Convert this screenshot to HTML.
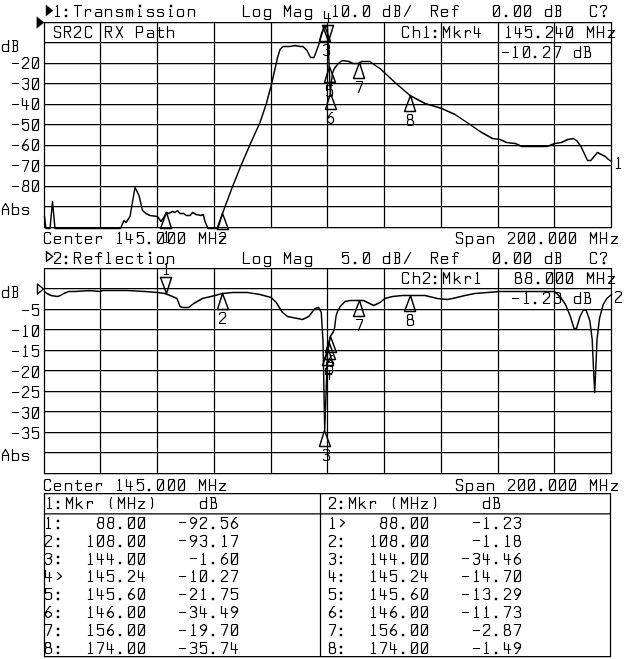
<!DOCTYPE html>
<html lang="en">
<head>
<meta charset="utf-8">
<title>Network analyzer plot - SR2C RX Path</title>
<style>
html,body{margin:0;padding:0;background:#fff;}
body{width:640px;height:659px;overflow:hidden;font-family:"Liberation Mono",monospace;}
svg{display:block;}
.g{fill:none;stroke:#000;stroke-width:1.25;}
.t{fill:none;stroke:#000;stroke-width:1.2;stroke-linecap:square;stroke-linejoin:round;}
.tr{fill:none;stroke:#000;stroke-width:1.45;stroke-linejoin:round;stroke-linecap:round;}
.f{fill:#000;stroke:#000;stroke-width:0.4;}
</style>
</head>
<body>
<svg width="640" height="659" viewBox="0 0 640 659" role="img" aria-label="Network analyzer screen: transmission and reflection traces with marker table">
<rect width="640" height="659" fill="#fff"/>
<path class="g" d="M44.5 22 V228M100.5 22 V228M157.5 22 V228M214.5 22 V228M271.5 22 V228M327.5 22 V228M384.5 22 V228M441.5 22 V228M498.5 22 V228M554.5 22 V228M611.5 22 V228M44 22.5 H612M44 42.5 H612M44 63.5 H612M44 83.5 H612M44 104.5 H612M44 124.5 H612M44 145.5 H612M44 165.5 H612M44 186.5 H612M44 206.5 H612M44 227.5 H612"/>
<path class="g" d="M44.5 268 V474M100.5 268 V474M157.5 268 V474M214.5 268 V474M271.5 268 V474M327.5 268 V474M384.5 268 V474M441.5 268 V474M498.5 268 V474M554.5 268 V474M611.5 268 V474M44 268.5 H612M44 288.5 H612M44 309.5 H612M44 329.5 H612M44 350.5 H612M44 370.5 H612M44 391.5 H612M44 411.5 H612M44 432.5 H612M44 452.5 H612M44 473.5 H612"/>
<path class="tr" d="M44.5 216.5 L46 228.5 L50 228.5 L52.5 201.5 L55 228.5 L120.5 228.5 L124 220.5 L126 222.5 L130 216.5 L135 187.5 L139 195.5 L142.5 210.5 L146 213.5 L150 215.5 L157.5 216.5 L161 221.5 L163.75 217.5 L166.25 212.5 L168.75 213.5 L172.5 211.5 L175 212.5 L177.5 210.5 L180 213.5 L183.75 213.5 L186.25 215.5 L190 215.5 L192.5 212.5 L196.25 214.5 L201.25 215.5 L203.25 214.5 L205 221.5 L208 228.5 L217 228.5 L222.5 213.5 L231.4 189.5 L241 165.5 L250.5 143.5 L260 122.5 L266.4 103.5 L271.2 85.5 L274.4 71.5 L277.6 57.5 L280 49.5 L283 46.5 L290 46.5 L295 45.5 L300 46.5 L303 46.5 L307 50.5 L310.5 57.5 L314 57.5 L318.5 45.5 L321.5 33.5 L324.7 25.5 L327.5 27.5 L330.3 93.5 L332.4 73.5 L334.4 68.5 L338.3 63.5 L342.3 60.5 L349 61.5 L353 63.5 L358 63.5 L362 61.5 L370 61.5 L376.8 66.5 L380 68.5 L395 82.5 L410 95.5 L425 103.5 L441.75 108.5 L455 114.5 L470 124.5 L480 131.5 L492.5 138.5 L500 139.5 L506.6 142.5 L515.3 143.5 L521.9 146.5 L547 146.5 L554.7 143.5 L561.3 142.5 L567.8 139.5 L573.3 138.5 L576.6 140.5 L581 146.5 L587.5 160.5 L590.8 160.5 L597.4 152.5 L605.3 156.5 L608.5 159.5 L611.5 161.5"/>
<path class="tr" d="M44.5 291.5 L47 293.5 L51 295.5 L57.5 296.5 L60.5 295.5 L63.75 293.5 L68.75 291.5 L75 291.5 L90 290.5 L100 291.5 L102.5 290.5 L127.5 290.5 L145 291.5 L157.5 292.5 L165 293.5 L172.5 296.5 L177 298.5 L180 306.5 L182.5 307.5 L188.75 307.5 L193.75 303.5 L202.5 298.5 L215 295.5 L222.5 293.5 L232.5 292.5 L247.5 292.5 L260 294.5 L271.25 297.5 L276.25 302.5 L282.5 312.5 L287.5 316.5 L297.5 318.5 L302.5 319.5 L308.75 316.5 L315 308.5 L318.75 307.5 L321.25 312.5 L323 340.5 L324.7 430.5 L327.5 353.5 L330.3 336.5 L333.5 331.5 L334.7 327.5 L335.3 321.5 L336.2 315.5 L337.5 311.5 L340.2 306.5 L345.1 301.5 L350 300.5 L352 300.5 L358.7 300.5 L363.6 300.5 L373.7 305.5 L380 302.5 L385 298.5 L392.5 296.5 L402.5 295.5 L410 295.5 L425 295.5 L437.5 298.5 L447.5 299.5 L452.5 298.5 L465 295.5 L475 293.5 L487.5 292.5 L500 291.5 L510 291.5 L554.6 291.5 L560.7 297.5 L565.5 304.5 L570.4 316.5 L574 328.5 L576.5 328.5 L580 316.5 L583.7 309.5 L586.2 310.5 L589.8 320.5 L592.2 339.5 L593.4 366.5 L594.7 392.5 L595.9 366.5 L597 339.5 L599.5 318.5 L603.2 304.5 L606.8 298.5 L611.5 294.5"/>
<path class="tr" d="M166.5 212.5 L160.5 228.5 L171.5 228.5Z"/>
<g role="img" aria-label="marker 1"><title>marker 1</title><path class="t" d="M165.5 233.5 L166.5 231.5 L166.5 242.5M164.5 242.5 L168.5 242.5"/></g>
<path class="tr" d="M222.5 213.5 L217.5 229.5 L228.5 229.5Z"/>
<g role="img" aria-label="marker 2"><title>marker 2</title><path class="t" d="M219.5 234.5 L219.5 234.5 L221.5 232.5 L224.5 232.5 L225.5 234.5 L225.5 236.5 L219.5 242.5 L219.5 243.5 L225.5 243.5"/></g>
<path class="tr" d="M324.5 25.5 L319.5 41.5 L330.5 41.5Z"/>
<g role="img" aria-label="marker 3"><title>marker 3</title><path class="t" d="M323.5 45.5 L325.5 44.5 L328.5 44.5 L329.5 45.5 L329.5 48.5 L328.5 49.5 L326.5 49.5M328.5 49.5 L329.5 50.5 L329.5 54.5 L328.5 55.5 L325.5 55.5 L323.5 54.5"/></g>
<path class="tr" d="M328.5 41.5 L322.5 25.5 L333.5 25.5Z"/>
<g role="img" aria-label="marker 4"><title>marker 4</title><path class="t" d="M324.5 11.5 L324.5 18.5 L330.5 18.5M328.5 13.5 L328.5 22.5"/></g>
<path class="tr" d="M329.5 66.5 L324.5 82.5 L335.5 82.5Z"/>
<g role="img" aria-label="marker 5"><title>marker 5</title><path class="t" d="M332.5 85.5 L326.5 85.5 L326.5 90.5 L328.5 89.5 L331.5 89.5 L332.5 90.5 L332.5 95.5 L331.5 96.5 L328.5 96.5 L326.5 95.5"/></g>
<path class="tr" d="M330.5 93.5 L325.5 109.5 L336.5 109.5Z"/>
<g role="img" aria-label="marker 6"><title>marker 6</title><path class="t" d="M332.5 112.5 L331.5 112.5 L327.5 117.5 L327.5 121.5 L330.5 123.5 L331.5 123.5 L333.5 121.5 L333.5 118.5 L331.5 116.5 L330.5 116.5 L327.5 118.5"/></g>
<path class="tr" d="M359.5 62.5 L353.5 78.5 L364.5 78.5Z"/>
<g role="img" aria-label="marker 7"><title>marker 7</title><path class="t" d="M356.5 81.5 L362.5 81.5 L362.5 82.5 L358.5 92.5"/></g>
<path class="tr" d="M410.5 95.5 L404.5 111.5 L415.5 111.5Z"/>
<g role="img" aria-label="marker 8"><title>marker 8</title><path class="t" d="M408.5 119.5 L407.5 118.5 L407.5 115.5 L408.5 114.5 L411.5 114.5 L412.5 115.5 L412.5 118.5 L411.5 119.5 L408.5 119.5 L407.5 121.5 L407.5 124.5 L408.5 125.5 L411.5 125.5 L413.5 124.5 L413.5 121.5 L411.5 119.5"/></g>
<path class="tr" d="M166.5 293.5 L160.5 277.5 L171.5 277.5Z"/>
<g role="img" aria-label="marker 1"><title>marker 1</title><path class="t" d="M165.5 264.5 L166.5 263.5 L166.5 274.5M164.5 274.5 L168.5 274.5"/></g>
<path class="tr" d="M222.5 293.5 L217.5 309.5 L228.5 309.5Z"/>
<g role="img" aria-label="marker 2"><title>marker 2</title><path class="t" d="M219.5 314.5 L219.5 313.5 L221.5 312.5 L224.5 312.5 L225.5 313.5 L225.5 316.5 L219.5 322.5 L219.5 323.5 L225.5 323.5"/></g>
<path class="tr" d="M324.5 430.5 L319.5 446.5 L330.5 446.5Z"/>
<g role="img" aria-label="marker 3"><title>marker 3</title><path class="t" d="M323.5 450.5 L324.5 449.5 L327.5 449.5 L329.5 450.5 L329.5 453.5 L327.5 454.5 L325.5 454.5M327.5 454.5 L329.5 456.5 L329.5 459.5 L327.5 460.5 L324.5 460.5 L323.5 459.5"/></g>
<path class="tr" d="M328.5 349.5 L322.5 365.5 L333.5 365.5Z"/>
<g role="img" aria-label="marker 4"><title>marker 4</title><path class="t" d="M325.5 368.5 L325.5 374.5 L331.5 374.5M329.5 370.5 L329.5 379.5"/></g>
<path class="tr" d="M329.5 343.5 L324.5 359.5 L335.5 359.5Z"/>
<g role="img" aria-label="marker 5"><title>marker 5</title><path class="t" d="M332.5 362.5 L326.5 362.5 L326.5 367.5 L328.5 365.5 L331.5 365.5 L332.5 367.5 L332.5 372.5 L331.5 373.5 L328.5 373.5 L326.5 372.5"/></g>
<path class="tr" d="M330.5 336.5 L325.5 352.5 L336.5 352.5Z"/>
<g role="img" aria-label="marker 6"><title>marker 6</title><path class="t" d="M332.5 355.5 L331.5 355.5 L327.5 361.5 L327.5 365.5 L330.5 366.5 L331.5 366.5 L333.5 365.5 L333.5 362.5 L331.5 360.5 L330.5 360.5 L327.5 362.5"/></g>
<path class="tr" d="M359.5 300.5 L353.5 316.5 L364.5 316.5Z"/>
<g role="img" aria-label="marker 7"><title>marker 7</title><path class="t" d="M356.5 319.5 L362.5 319.5 L362.5 320.5 L358.5 330.5"/></g>
<path class="tr" d="M410.5 295.5 L404.5 311.5 L415.5 311.5Z"/>
<g role="img" aria-label="marker 8"><title>marker 8</title><path class="t" d="M408.5 319.5 L407.5 318.5 L407.5 315.5 L408.5 314.5 L411.5 314.5 L412.5 315.5 L412.5 318.5 L411.5 319.5 L408.5 319.5 L407.5 320.5 L407.5 324.5 L408.5 325.5 L411.5 325.5 L413.5 324.5 L413.5 320.5 L411.5 319.5"/></g>
<path class="f" d="M36.8 16.8 L44 22.5 L36.8 28.2Z"/>
<path class="tr" d="M37.5 284 L43.5 289 L37.5 294Z"/>
<path class="f" d="M46 5 L53 10.5 L46 16Z"/>
<path class="tr" d="M46.5 251.7 L52.7 256.5 L46.5 261.3Z"/>
<g role="img" aria-label="trace 1"><title>trace 1</title><path class="t" d="M617.5 158.5 L618.5 157.5 L618.5 168.5M616.5 168.5 L620.5 168.5"/></g>
<g role="img" aria-label="trace 2"><title>trace 2</title><path class="t" d="M615.5 292.5 L615.5 292.5 L616.5 291.5 L619.5 291.5 L621.5 292.5 L621.5 294.5 L615.5 300.5 L615.5 302.5 L621.5 302.5"/></g>
<g role="img" aria-label="1:Transmission"><title>1:Transmission</title><path class="t" d="M56.5 6.5 L57.5 5.5 L57.5 16.5M55.5 16.5 L59.5 16.5M74.5 5.5 L81.5 5.5M77.5 5.5 L77.5 16.5M85.5 9.5 L85.5 16.5M85.5 11.5 L87.5 9.5 L90.5 9.5 L90.5 10.5 L90.5 11.5M96.5 9.5 L100.5 9.5 L101.5 10.5 L101.5 16.5M101.5 12.5 L96.5 12.5 L95.5 13.5 L95.5 15.5 L96.5 16.5 L101.5 16.5M105.5 9.5 L105.5 16.5M105.5 10.5 L107.5 9.5 L110.5 9.5 L111.5 10.5 L111.5 16.5M122.5 10.5 L122.5 10.5 L121.5 9.5 L117.5 9.5 L116.5 10.5 L116.5 11.5 L117.5 12.5 L121.5 12.5 L122.5 13.5 L122.5 15.5 L121.5 16.5 L117.5 16.5 L116.5 15.5 L116.5 15.5M126.5 9.5 L126.5 16.5M126.5 10.5 L127.5 9.5 L128.5 9.5 L129.5 10.5 L129.5 16.5M129.5 10.5 L130.5 9.5 L131.5 9.5 L132.5 10.5 L132.5 16.5M138.5 9.5 L139.5 9.5 L139.5 16.5M138.5 16.5 L141.5 16.5M153.5 10.5 L153.5 10.5 L152.5 9.5 L148.5 9.5 L147.5 10.5 L147.5 11.5 L148.5 12.5 L152.5 12.5 L153.5 13.5 L153.5 15.5 L152.5 16.5 L148.5 16.5 L147.5 15.5 L147.5 15.5M163.5 10.5 L163.5 10.5 L162.5 9.5 L158.5 9.5 L157.5 10.5 L157.5 11.5 L158.5 12.5 L162.5 12.5 L163.5 13.5 L163.5 15.5 L162.5 16.5 L158.5 16.5 L157.5 15.5 L157.5 15.5M169.5 9.5 L170.5 9.5 L170.5 16.5M169.5 16.5 L172.5 16.5M178.5 16.5 L182.5 16.5 L183.5 15.5 L183.5 10.5 L182.5 9.5 L178.5 9.5 L177.5 10.5 L177.5 15.5 L178.5 16.5M188.5 9.5 L188.5 16.5M188.5 10.5 L189.5 9.5 L193.5 9.5 L194.5 10.5 L194.5 16.5"/><rect class="f" x="65" y="15" width="2" height="2"/><rect class="f" x="65" y="9" width="2" height="2"/><rect class="f" x="139" y="5" width="2" height="2"/><rect class="f" x="170" y="5" width="2" height="2"/></g>
<g role="img" aria-label="Log Mag"><title>Log Mag</title><path class="t" d="M243.5 5.5 L243.5 16.5 L249.5 16.5M254.5 16.5 L258.5 16.5 L259.5 15.5 L259.5 10.5 L258.5 9.5 L254.5 9.5 L253.5 10.5 L253.5 15.5 L254.5 16.5M270.5 15.5 L269.5 16.5 L265.5 16.5 L264.5 15.5 L264.5 10.5 L265.5 9.5 L269.5 9.5 L270.5 10.5M270.5 9.5 L270.5 18.5 L269.5 19.5 L265.5 19.5 L264.5 18.5M284.5 16.5 L284.5 5.5 L287.5 11.5 L290.5 5.5 L290.5 16.5M295.5 9.5 L299.5 9.5 L300.5 10.5 L300.5 16.5M300.5 12.5 L295.5 12.5 L294.5 13.5 L294.5 15.5 L295.5 16.5 L300.5 16.5M311.5 15.5 L310.5 16.5 L306.5 16.5 L305.5 15.5 L305.5 10.5 L306.5 9.5 L310.5 9.5 L311.5 10.5M311.5 9.5 L311.5 18.5 L310.5 19.5 L306.5 19.5 L305.5 18.5"/></g>
<g role="img" aria-label="10.0 dB/"><title>10.0 dB/</title><path class="t" d="M334.5 6.5 L335.5 5.5 L335.5 16.5M333.5 16.5 L337.5 16.5M343.5 16.5 L347.5 16.5 L348.5 15.5 L348.5 6.5 L347.5 5.5 L343.5 5.5 L342.5 6.5 L342.5 15.5 L343.5 16.5M343.5 15.5 L348.5 6.5M364.5 16.5 L368.5 16.5 L369.5 15.5 L369.5 6.5 L368.5 5.5 L364.5 5.5 L363.5 6.5 L363.5 15.5 L364.5 16.5M363.5 15.5 L368.5 6.5M389.5 5.5 L389.5 16.5M389.5 15.5 L388.5 16.5 L384.5 16.5 L383.5 15.5 L383.5 10.5 L384.5 9.5 L388.5 9.5 L389.5 10.5M394.5 5.5 L398.5 5.5 L399.5 6.5 L399.5 9.5 L398.5 10.5 L395.5 10.5M398.5 10.5 L399.5 11.5 L399.5 15.5 L398.5 16.5 L394.5 16.5M395.5 5.5 L395.5 16.5M404.5 16.5 L410.5 5.5"/><rect class="f" x="354" y="15" width="2" height="2"/></g>
<g role="img" aria-label="Ref"><title>Ref</title><path class="t" d="M431.5 16.5 L431.5 5.5 L436.5 5.5 L437.5 6.5 L437.5 9.5 L436.5 10.5 L431.5 10.5M434.5 10.5 L437.5 16.5M441.5 12.5 L447.5 12.5 L447.5 10.5 L446.5 9.5 L442.5 9.5 L441.5 10.5 L441.5 15.5 L442.5 16.5 L446.5 16.5 L447.5 15.5M458.5 6.5 L457.5 5.5 L455.5 5.5 L454.5 6.5 L454.5 16.5M452.5 9.5 L457.5 9.5"/></g>
<g role="img" aria-label="0.00 dB"><title>0.00 dB</title><path class="t" d="M494.5 16.5 L498.5 16.5 L499.5 15.5 L499.5 6.5 L498.5 5.5 L494.5 5.5 L493.5 6.5 L493.5 15.5 L494.5 16.5M493.5 15.5 L499.5 6.5M515.5 16.5 L519.5 16.5 L520.5 15.5 L520.5 6.5 L519.5 5.5 L515.5 5.5 L514.5 6.5 L514.5 15.5 L515.5 16.5M514.5 15.5 L519.5 6.5M525.5 16.5 L529.5 16.5 L530.5 15.5 L530.5 6.5 L529.5 5.5 L525.5 5.5 L524.5 6.5 L524.5 15.5 L525.5 16.5M524.5 15.5 L530.5 6.5M551.5 5.5 L551.5 16.5M551.5 15.5 L550.5 16.5 L546.5 16.5 L545.5 15.5 L545.5 10.5 L546.5 9.5 L550.5 9.5 L551.5 10.5M555.5 5.5 L559.5 5.5 L560.5 6.5 L560.5 9.5 L559.5 10.5 L556.5 10.5M559.5 10.5 L560.5 11.5 L560.5 15.5 L559.5 16.5 L555.5 16.5M556.5 5.5 L556.5 16.5"/><rect class="f" x="505" y="15" width="2" height="2"/></g>
<g role="img" aria-label="C?"><title>C?</title><path class="t" d="M596.5 7.5 L596.5 6.5 L595.5 5.5 L591.5 5.5 L590.5 6.5 L590.5 15.5 L591.5 16.5 L595.5 16.5 L596.5 15.5 L596.5 14.5M600.5 7.5 L600.5 6.5 L602.5 5.5 L605.5 5.5 L606.5 6.5 L606.5 8.5 L603.5 11.5 L603.5 13.5"/><rect class="f" x="603" y="15" width="2" height="2"/></g>
<g role="img" aria-label="SR2C RX Path"><title>SR2C RX Path</title><path class="t" d="M60.5 28.5 L60.5 27.5 L59.5 26.5 L55.5 26.5 L54.5 27.5 L54.5 30.5 L55.5 31.5 L59.5 32.5 L60.5 32.5 L60.5 36.5 L59.5 37.5 L55.5 37.5 L54.5 36.5 L54.5 35.5M64.5 37.5 L64.5 26.5 L69.5 26.5 L70.5 27.5 L70.5 30.5 L69.5 31.5 L64.5 31.5M67.5 31.5 L70.5 37.5M74.5 28.5 L74.5 27.5 L76.5 26.5 L79.5 26.5 L80.5 27.5 L80.5 30.5 L74.5 36.5 L74.5 37.5 L80.5 37.5M91.5 28.5 L91.5 27.5 L90.5 26.5 L86.5 26.5 L85.5 27.5 L85.5 36.5 L86.5 37.5 L90.5 37.5 L91.5 36.5 L91.5 35.5M105.5 37.5 L105.5 26.5 L110.5 26.5 L111.5 27.5 L111.5 30.5 L110.5 31.5 L105.5 31.5M108.5 31.5 L111.5 37.5M116.5 26.5 L122.5 37.5M116.5 37.5 L122.5 26.5M136.5 37.5 L136.5 26.5 L141.5 26.5 L142.5 27.5 L142.5 31.5 L141.5 32.5 L136.5 32.5M147.5 30.5 L152.5 30.5 L153.5 31.5 L153.5 37.5M153.5 33.5 L148.5 33.5 L147.5 34.5 L147.5 36.5 L148.5 37.5 L153.5 37.5M159.5 27.5 L159.5 36.5 L160.5 37.5 L162.5 37.5 L163.5 36.5M157.5 30.5 L163.5 30.5M167.5 26.5 L167.5 37.5M167.5 31.5 L169.5 30.5 L172.5 30.5 L173.5 31.5 L173.5 37.5"/></g>
<g role="img" aria-label="Ch1:Mkr4"><title>Ch1:Mkr4</title><path class="t" d="M408.5 28.5 L408.5 27.5 L407.5 26.5 L403.5 26.5 L402.5 27.5 L402.5 36.5 L403.5 37.5 L407.5 37.5 L408.5 36.5 L408.5 35.5M413.5 26.5 L413.5 37.5M413.5 31.5 L414.5 30.5 L418.5 30.5 L419.5 31.5 L419.5 37.5M425.5 27.5 L426.5 26.5 L426.5 37.5M424.5 37.5 L428.5 37.5M443.5 37.5 L443.5 26.5 L446.5 32.5 L449.5 26.5 L449.5 37.5M454.5 26.5 L454.5 37.5M459.5 30.5 L454.5 34.5M456.5 33.5 L460.5 37.5M465.5 30.5 L465.5 37.5M465.5 32.5 L467.5 30.5 L469.5 30.5 L470.5 31.5 L470.5 32.5M474.5 26.5 L474.5 33.5 L480.5 33.5M478.5 28.5 L478.5 37.5"/><rect class="f" x="434" y="36" width="2" height="2"/><rect class="f" x="434" y="30" width="2" height="2"/></g>
<g role="img" aria-label="145.240 MHz"><title>145.240 MHz</title><path class="t" d="M507.5 27.5 L508.5 26.5 L508.5 37.5M506.5 37.5 L510.5 37.5M515.5 26.5 L515.5 33.5 L521.5 33.5M519.5 28.5 L519.5 37.5M531.5 26.5 L525.5 26.5 L525.5 31.5 L527.5 29.5 L530.5 29.5 L531.5 31.5 L531.5 36.5 L530.5 37.5 L527.5 37.5 L525.5 36.5M546.5 28.5 L546.5 27.5 L547.5 26.5 L550.5 26.5 L552.5 27.5 L552.5 30.5 L546.5 36.5 L546.5 37.5 L552.5 37.5M556.5 26.5 L556.5 33.5 L562.5 33.5M560.5 28.5 L560.5 37.5M567.5 37.5 L571.5 37.5 L572.5 36.5 L572.5 27.5 L571.5 26.5 L567.5 26.5 L566.5 27.5 L566.5 36.5 L567.5 37.5M567.5 36.5 L572.5 27.5M587.5 37.5 L587.5 26.5 L590.5 32.5 L593.5 26.5 L593.5 37.5M597.5 26.5 L597.5 37.5M603.5 26.5 L603.5 37.5M597.5 32.5 L603.5 32.5M608.5 30.5 L614.5 30.5 L608.5 37.5 L614.5 37.5"/><rect class="f" x="537" y="36" width="2" height="2"/></g>
<g role="img" aria-label="-10.27 dB"><title>-10.27 dB</title><path class="t" d="M502.5 52.5 L508.5 52.5M514.5 47.5 L515.5 46.5 L515.5 57.5M513.5 57.5 L517.5 57.5M524.5 57.5 L528.5 57.5 L529.5 56.5 L529.5 47.5 L528.5 46.5 L524.5 46.5 L523.5 47.5 L523.5 56.5 L524.5 57.5M523.5 56.5 L528.5 47.5M543.5 48.5 L543.5 47.5 L545.5 46.5 L548.5 46.5 L549.5 47.5 L549.5 50.5 L543.5 56.5 L543.5 57.5 L549.5 57.5M554.5 46.5 L560.5 46.5 L560.5 47.5 L556.5 57.5M580.5 46.5 L580.5 57.5M580.5 56.5 L579.5 57.5 L575.5 57.5 L574.5 56.5 L574.5 51.5 L575.5 50.5 L579.5 50.5 L580.5 51.5M584.5 46.5 L588.5 46.5 L589.5 47.5 L589.5 50.5 L588.5 51.5 L585.5 51.5M588.5 51.5 L590.5 52.5 L590.5 56.5 L589.5 57.5 L584.5 57.5M585.5 46.5 L585.5 57.5"/><rect class="f" x="534" y="56" width="2" height="2"/></g>
<g role="img" aria-label="Center 145.000 MHz"><title>Center 145.000 MHz</title><path class="t" d="M50.5 234.5 L50.5 233.5 L49.5 232.5 L45.5 232.5 L44.5 233.5 L44.5 242.5 L45.5 243.5 L49.5 243.5 L50.5 242.5 L50.5 241.5M54.5 239.5 L60.5 239.5 L60.5 237.5 L59.5 236.5 L55.5 236.5 L54.5 237.5 L54.5 242.5 L55.5 243.5 L59.5 243.5 L60.5 242.5M65.5 236.5 L65.5 243.5M65.5 237.5 L66.5 236.5 L70.5 236.5 L71.5 237.5 L71.5 243.5M77.5 233.5 L77.5 242.5 L78.5 243.5 L80.5 243.5 L81.5 242.5M75.5 236.5 L81.5 236.5M85.5 239.5 L91.5 239.5 L91.5 237.5 L90.5 236.5 L86.5 236.5 L85.5 237.5 L85.5 242.5 L86.5 243.5 L90.5 243.5 L91.5 242.5M96.5 236.5 L96.5 243.5M96.5 238.5 L98.5 236.5 L101.5 236.5 L101.5 237.5 L101.5 238.5M118.5 233.5 L119.5 232.5 L119.5 243.5M117.5 243.5 L121.5 243.5M126.5 232.5 L126.5 239.5 L132.5 239.5M130.5 234.5 L130.5 243.5M143.5 232.5 L137.5 232.5 L137.5 237.5 L138.5 235.5 L141.5 235.5 L143.5 237.5 L143.5 242.5 L141.5 243.5 L138.5 243.5 L137.5 242.5M158.5 243.5 L162.5 243.5 L163.5 242.5 L163.5 233.5 L162.5 232.5 L158.5 232.5 L157.5 233.5 L157.5 242.5 L158.5 243.5M158.5 242.5 L163.5 233.5M169.5 243.5 L173.5 243.5 L174.5 242.5 L174.5 233.5 L173.5 232.5 L169.5 232.5 L168.5 233.5 L168.5 242.5 L169.5 243.5M168.5 242.5 L173.5 233.5M179.5 243.5 L183.5 243.5 L184.5 242.5 L184.5 233.5 L183.5 232.5 L179.5 232.5 L178.5 233.5 L178.5 242.5 L179.5 243.5M178.5 242.5 L184.5 233.5M199.5 243.5 L199.5 232.5 L202.5 238.5 L205.5 232.5 L205.5 243.5M209.5 232.5 L209.5 243.5M215.5 232.5 L215.5 243.5M209.5 238.5 L215.5 238.5M219.5 236.5 L225.5 236.5 L219.5 243.5 L225.5 243.5"/><rect class="f" x="148" y="242" width="2" height="2"/></g>
<g role="img" aria-label="Span 200.000 MHz"><title>Span 200.000 MHz</title><path class="t" d="M462.5 234.5 L462.5 233.5 L461.5 232.5 L457.5 232.5 L456.5 233.5 L456.5 236.5 L457.5 237.5 L461.5 238.5 L462.5 238.5 L462.5 242.5 L461.5 243.5 L457.5 243.5 L456.5 242.5 L456.5 241.5M466.5 236.5 L466.5 246.5M466.5 237.5 L467.5 236.5 L471.5 236.5 L472.5 237.5 L472.5 242.5 L471.5 243.5 L467.5 243.5 L466.5 242.5M477.5 236.5 L482.5 236.5 L483.5 237.5 L483.5 243.5M483.5 239.5 L478.5 239.5 L477.5 240.5 L477.5 242.5 L478.5 243.5 L483.5 243.5M487.5 236.5 L487.5 243.5M487.5 237.5 L488.5 236.5 L492.5 236.5 L493.5 237.5 L493.5 243.5M508.5 234.5 L508.5 233.5 L509.5 232.5 L512.5 232.5 L514.5 233.5 L514.5 236.5 L508.5 242.5 L508.5 243.5 L514.5 243.5M519.5 243.5 L523.5 243.5 L524.5 242.5 L524.5 233.5 L523.5 232.5 L519.5 232.5 L518.5 233.5 L518.5 242.5 L519.5 243.5M518.5 242.5 L524.5 233.5M529.5 243.5 L533.5 243.5 L534.5 242.5 L534.5 233.5 L533.5 232.5 L529.5 232.5 L528.5 233.5 L528.5 242.5 L529.5 243.5M528.5 242.5 L534.5 233.5M550.5 243.5 L554.5 243.5 L555.5 242.5 L555.5 233.5 L554.5 232.5 L550.5 232.5 L549.5 233.5 L549.5 242.5 L550.5 243.5M549.5 242.5 L554.5 233.5M560.5 243.5 L564.5 243.5 L565.5 242.5 L565.5 233.5 L564.5 232.5 L560.5 232.5 L559.5 233.5 L559.5 242.5 L560.5 243.5M559.5 242.5 L565.5 233.5M570.5 243.5 L574.5 243.5 L575.5 242.5 L575.5 233.5 L574.5 232.5 L570.5 232.5 L569.5 233.5 L569.5 242.5 L570.5 243.5M570.5 242.5 L575.5 233.5M590.5 243.5 L590.5 232.5 L593.5 238.5 L596.5 232.5 L596.5 243.5M600.5 232.5 L600.5 243.5M606.5 232.5 L606.5 243.5M600.5 238.5 L606.5 238.5M611.5 236.5 L617.5 236.5 L611.5 243.5 L617.5 243.5"/><rect class="f" x="540" y="242" width="2" height="2"/></g>
<g role="img" aria-label="2:Reflection"><title>2:Reflection</title><path class="t" d="M54.5 254.5 L54.5 253.5 L55.5 252.5 L58.5 252.5 L60.5 253.5 L60.5 256.5 L54.5 262.5 L54.5 263.5 L60.5 263.5M74.5 263.5 L74.5 252.5 L79.5 252.5 L80.5 253.5 L80.5 256.5 L79.5 257.5 L74.5 257.5M77.5 257.5 L80.5 263.5M85.5 259.5 L91.5 259.5 L91.5 257.5 L90.5 256.5 L86.5 256.5 L85.5 257.5 L85.5 262.5 L86.5 263.5 L90.5 263.5 L91.5 262.5M101.5 253.5 L100.5 252.5 L99.5 252.5 L98.5 253.5 L98.5 263.5M95.5 256.5 L101.5 256.5M107.5 252.5 L108.5 252.5 L108.5 263.5M106.5 263.5 L110.5 263.5M116.5 259.5 L122.5 259.5 L122.5 257.5 L121.5 256.5 L117.5 256.5 L116.5 257.5 L116.5 262.5 L117.5 263.5 L121.5 263.5 L122.5 262.5M132.5 257.5 L132.5 257.5 L131.5 256.5 L127.5 256.5 L126.5 257.5 L126.5 262.5 L127.5 263.5 L131.5 263.5 L132.5 262.5 L132.5 262.5M139.5 253.5 L139.5 262.5 L140.5 263.5 L141.5 263.5 L142.5 262.5M137.5 256.5 L142.5 256.5M149.5 256.5 L150.5 256.5 L150.5 263.5M149.5 263.5 L151.5 263.5M158.5 263.5 L162.5 263.5 L163.5 262.5 L163.5 257.5 L162.5 256.5 L158.5 256.5 L157.5 257.5 L157.5 262.5 L158.5 263.5M167.5 256.5 L167.5 263.5M167.5 257.5 L169.5 256.5 L172.5 256.5 L173.5 257.5 L173.5 263.5"/><rect class="f" x="65" y="262" width="2" height="2"/><rect class="f" x="65" y="256" width="2" height="2"/><rect class="f" x="149" y="252" width="2" height="2"/></g>
<g role="img" aria-label="Log Mag"><title>Log Mag</title><path class="t" d="M243.5 252.5 L243.5 263.5 L249.5 263.5M254.5 263.5 L258.5 263.5 L259.5 262.5 L259.5 257.5 L258.5 256.5 L254.5 256.5 L253.5 257.5 L253.5 262.5 L254.5 263.5M270.5 262.5 L269.5 263.5 L265.5 263.5 L264.5 262.5 L264.5 257.5 L265.5 256.5 L269.5 256.5 L270.5 257.5M270.5 256.5 L270.5 265.5 L269.5 266.5 L265.5 266.5 L264.5 265.5M284.5 263.5 L284.5 252.5 L287.5 258.5 L290.5 252.5 L290.5 263.5M295.5 256.5 L299.5 256.5 L300.5 257.5 L300.5 263.5M300.5 259.5 L295.5 259.5 L294.5 260.5 L294.5 262.5 L295.5 263.5 L300.5 263.5M311.5 262.5 L310.5 263.5 L306.5 263.5 L305.5 262.5 L305.5 257.5 L306.5 256.5 L310.5 256.5 L311.5 257.5M311.5 256.5 L311.5 265.5 L310.5 266.5 L306.5 266.5 L305.5 265.5"/></g>
<g role="img" aria-label="5.0 dB/"><title>5.0 dB/</title><path class="t" d="M348.5 252.5 L342.5 252.5 L342.5 257.5 L344.5 255.5 L347.5 255.5 L348.5 257.5 L348.5 262.5 L347.5 263.5 L344.5 263.5 L342.5 262.5M364.5 263.5 L368.5 263.5 L369.5 262.5 L369.5 253.5 L368.5 252.5 L364.5 252.5 L363.5 253.5 L363.5 262.5 L364.5 263.5M363.5 262.5 L368.5 253.5M389.5 252.5 L389.5 263.5M389.5 262.5 L388.5 263.5 L384.5 263.5 L383.5 262.5 L383.5 257.5 L384.5 256.5 L388.5 256.5 L389.5 257.5M394.5 252.5 L398.5 252.5 L399.5 253.5 L399.5 256.5 L398.5 257.5 L395.5 257.5M398.5 257.5 L399.5 258.5 L399.5 262.5 L398.5 263.5 L394.5 263.5M395.5 252.5 L395.5 263.5M404.5 263.5 L410.5 252.5"/><rect class="f" x="354" y="262" width="2" height="2"/></g>
<g role="img" aria-label="Ref"><title>Ref</title><path class="t" d="M431.5 263.5 L431.5 252.5 L436.5 252.5 L437.5 253.5 L437.5 256.5 L436.5 257.5 L431.5 257.5M434.5 257.5 L437.5 263.5M441.5 259.5 L447.5 259.5 L447.5 257.5 L446.5 256.5 L442.5 256.5 L441.5 257.5 L441.5 262.5 L442.5 263.5 L446.5 263.5 L447.5 262.5M458.5 253.5 L457.5 252.5 L455.5 252.5 L454.5 253.5 L454.5 263.5M452.5 256.5 L457.5 256.5"/></g>
<g role="img" aria-label="0.00 dB"><title>0.00 dB</title><path class="t" d="M494.5 263.5 L498.5 263.5 L499.5 262.5 L499.5 253.5 L498.5 252.5 L494.5 252.5 L493.5 253.5 L493.5 262.5 L494.5 263.5M493.5 262.5 L499.5 253.5M515.5 263.5 L519.5 263.5 L520.5 262.5 L520.5 253.5 L519.5 252.5 L515.5 252.5 L514.5 253.5 L514.5 262.5 L515.5 263.5M514.5 262.5 L519.5 253.5M525.5 263.5 L529.5 263.5 L530.5 262.5 L530.5 253.5 L529.5 252.5 L525.5 252.5 L524.5 253.5 L524.5 262.5 L525.5 263.5M524.5 262.5 L530.5 253.5M551.5 252.5 L551.5 263.5M551.5 262.5 L550.5 263.5 L546.5 263.5 L545.5 262.5 L545.5 257.5 L546.5 256.5 L550.5 256.5 L551.5 257.5M555.5 252.5 L559.5 252.5 L560.5 253.5 L560.5 256.5 L559.5 257.5 L556.5 257.5M559.5 257.5 L560.5 258.5 L560.5 262.5 L559.5 263.5 L555.5 263.5M556.5 252.5 L556.5 263.5"/><rect class="f" x="505" y="262" width="2" height="2"/></g>
<g role="img" aria-label="C?"><title>C?</title><path class="t" d="M596.5 254.5 L596.5 253.5 L595.5 252.5 L591.5 252.5 L590.5 253.5 L590.5 262.5 L591.5 263.5 L595.5 263.5 L596.5 262.5 L596.5 261.5M600.5 254.5 L600.5 253.5 L602.5 252.5 L605.5 252.5 L606.5 253.5 L606.5 255.5 L603.5 258.5 L603.5 260.5"/><rect class="f" x="603" y="262" width="2" height="2"/></g>
<g role="img" aria-label="Ch2:Mkr1"><title>Ch2:Mkr1</title><path class="t" d="M408.5 274.5 L408.5 273.5 L407.5 272.5 L403.5 272.5 L402.5 273.5 L402.5 282.5 L403.5 283.5 L407.5 283.5 L408.5 282.5 L408.5 281.5M413.5 272.5 L413.5 283.5M413.5 277.5 L414.5 276.5 L418.5 276.5 L419.5 277.5 L419.5 283.5M423.5 274.5 L423.5 273.5 L424.5 272.5 L427.5 272.5 L429.5 273.5 L429.5 276.5 L423.5 282.5 L423.5 283.5 L429.5 283.5M443.5 283.5 L443.5 272.5 L446.5 278.5 L449.5 272.5 L449.5 283.5M454.5 272.5 L454.5 283.5M459.5 276.5 L454.5 280.5M456.5 279.5 L460.5 283.5M465.5 276.5 L465.5 283.5M465.5 278.5 L467.5 276.5 L469.5 276.5 L470.5 277.5 L470.5 278.5M476.5 273.5 L477.5 272.5 L477.5 283.5M475.5 283.5 L479.5 283.5"/><rect class="f" x="434" y="282" width="2" height="2"/><rect class="f" x="434" y="276" width="2" height="2"/></g>
<g role="img" aria-label="88.000 MHz"><title>88.000 MHz</title><path class="t" d="M516.5 277.5 L515.5 276.5 L515.5 273.5 L516.5 272.5 L519.5 272.5 L520.5 273.5 L520.5 276.5 L519.5 277.5 L516.5 277.5 L515.5 278.5 L515.5 282.5 L516.5 283.5 L519.5 283.5 L521.5 282.5 L521.5 278.5 L519.5 277.5M527.5 277.5 L526.5 276.5 L526.5 273.5 L527.5 272.5 L530.5 272.5 L531.5 273.5 L531.5 276.5 L530.5 277.5 L527.5 277.5 L525.5 278.5 L525.5 282.5 L527.5 283.5 L530.5 283.5 L531.5 282.5 L531.5 278.5 L530.5 277.5M547.5 283.5 L551.5 283.5 L552.5 282.5 L552.5 273.5 L551.5 272.5 L547.5 272.5 L546.5 273.5 L546.5 282.5 L547.5 283.5M546.5 282.5 L551.5 273.5M557.5 283.5 L561.5 283.5 L562.5 282.5 L562.5 273.5 L561.5 272.5 L557.5 272.5 L556.5 273.5 L556.5 282.5 L557.5 283.5M556.5 282.5 L562.5 273.5M567.5 283.5 L571.5 283.5 L572.5 282.5 L572.5 273.5 L571.5 272.5 L567.5 272.5 L566.5 273.5 L566.5 282.5 L567.5 283.5M567.5 282.5 L572.5 273.5M587.5 283.5 L587.5 272.5 L590.5 278.5 L593.5 272.5 L593.5 283.5M597.5 272.5 L597.5 283.5M603.5 272.5 L603.5 283.5M597.5 278.5 L603.5 278.5M608.5 276.5 L614.5 276.5 L608.5 283.5 L614.5 283.5"/><rect class="f" x="537" y="282" width="2" height="2"/></g>
<g role="img" aria-label="-1.23 dB"><title>-1.23 dB</title><path class="t" d="M512.5 298.5 L518.5 298.5M525.5 293.5 L526.5 292.5 L526.5 303.5M524.5 303.5 L528.5 303.5M543.5 294.5 L543.5 293.5 L545.5 292.5 L548.5 292.5 L549.5 293.5 L549.5 296.5 L543.5 302.5 L543.5 303.5 L549.5 303.5M554.5 293.5 L555.5 292.5 L558.5 292.5 L560.5 293.5 L560.5 296.5 L558.5 297.5 L556.5 297.5M558.5 297.5 L560.5 298.5 L560.5 302.5 L558.5 303.5 L555.5 303.5 L554.5 302.5M580.5 292.5 L580.5 303.5M580.5 302.5 L579.5 303.5 L575.5 303.5 L574.5 302.5 L574.5 297.5 L575.5 296.5 L579.5 296.5 L580.5 297.5M584.5 292.5 L588.5 292.5 L589.5 293.5 L589.5 296.5 L588.5 297.5 L585.5 297.5M588.5 297.5 L590.5 298.5 L590.5 302.5 L589.5 303.5 L584.5 303.5M585.5 292.5 L585.5 303.5"/><rect class="f" x="534" y="302" width="2" height="2"/></g>
<g role="img" aria-label="Center 145.000 MHz"><title>Center 145.000 MHz</title><path class="t" d="M50.5 481.5 L50.5 480.5 L49.5 479.5 L45.5 479.5 L44.5 480.5 L44.5 489.5 L45.5 490.5 L49.5 490.5 L50.5 489.5 L50.5 488.5M54.5 486.5 L60.5 486.5 L60.5 484.5 L59.5 483.5 L55.5 483.5 L54.5 484.5 L54.5 489.5 L55.5 490.5 L59.5 490.5 L60.5 489.5M65.5 483.5 L65.5 490.5M65.5 484.5 L66.5 483.5 L70.5 483.5 L71.5 484.5 L71.5 490.5M77.5 480.5 L77.5 489.5 L78.5 490.5 L80.5 490.5 L81.5 489.5M75.5 483.5 L81.5 483.5M85.5 486.5 L91.5 486.5 L91.5 484.5 L90.5 483.5 L86.5 483.5 L85.5 484.5 L85.5 489.5 L86.5 490.5 L90.5 490.5 L91.5 489.5M96.5 483.5 L96.5 490.5M96.5 485.5 L98.5 483.5 L101.5 483.5 L101.5 484.5 L101.5 485.5M118.5 480.5 L119.5 479.5 L119.5 490.5M117.5 490.5 L121.5 490.5M126.5 479.5 L126.5 486.5 L132.5 486.5M130.5 481.5 L130.5 490.5M143.5 479.5 L137.5 479.5 L137.5 484.5 L138.5 482.5 L141.5 482.5 L143.5 484.5 L143.5 489.5 L141.5 490.5 L138.5 490.5 L137.5 489.5M158.5 490.5 L162.5 490.5 L163.5 489.5 L163.5 480.5 L162.5 479.5 L158.5 479.5 L157.5 480.5 L157.5 489.5 L158.5 490.5M158.5 489.5 L163.5 480.5M169.5 490.5 L173.5 490.5 L174.5 489.5 L174.5 480.5 L173.5 479.5 L169.5 479.5 L168.5 480.5 L168.5 489.5 L169.5 490.5M168.5 489.5 L173.5 480.5M179.5 490.5 L183.5 490.5 L184.5 489.5 L184.5 480.5 L183.5 479.5 L179.5 479.5 L178.5 480.5 L178.5 489.5 L179.5 490.5M178.5 489.5 L184.5 480.5M199.5 490.5 L199.5 479.5 L202.5 485.5 L205.5 479.5 L205.5 490.5M209.5 479.5 L209.5 490.5M215.5 479.5 L215.5 490.5M209.5 485.5 L215.5 485.5M219.5 483.5 L225.5 483.5 L219.5 490.5 L225.5 490.5"/><rect class="f" x="148" y="489" width="2" height="2"/></g>
<g role="img" aria-label="Span 200.000 MHz"><title>Span 200.000 MHz</title><path class="t" d="M462.5 481.5 L462.5 480.5 L461.5 479.5 L457.5 479.5 L456.5 480.5 L456.5 483.5 L457.5 484.5 L461.5 485.5 L462.5 485.5 L462.5 489.5 L461.5 490.5 L457.5 490.5 L456.5 489.5 L456.5 488.5M466.5 483.5 L466.5 493.5M466.5 484.5 L467.5 483.5 L471.5 483.5 L472.5 484.5 L472.5 489.5 L471.5 490.5 L467.5 490.5 L466.5 489.5M477.5 483.5 L482.5 483.5 L483.5 484.5 L483.5 490.5M483.5 486.5 L478.5 486.5 L477.5 487.5 L477.5 489.5 L478.5 490.5 L483.5 490.5M487.5 483.5 L487.5 490.5M487.5 484.5 L488.5 483.5 L492.5 483.5 L493.5 484.5 L493.5 490.5M508.5 481.5 L508.5 480.5 L509.5 479.5 L512.5 479.5 L514.5 480.5 L514.5 483.5 L508.5 489.5 L508.5 490.5 L514.5 490.5M519.5 490.5 L523.5 490.5 L524.5 489.5 L524.5 480.5 L523.5 479.5 L519.5 479.5 L518.5 480.5 L518.5 489.5 L519.5 490.5M518.5 489.5 L524.5 480.5M529.5 490.5 L533.5 490.5 L534.5 489.5 L534.5 480.5 L533.5 479.5 L529.5 479.5 L528.5 480.5 L528.5 489.5 L529.5 490.5M528.5 489.5 L534.5 480.5M550.5 490.5 L554.5 490.5 L555.5 489.5 L555.5 480.5 L554.5 479.5 L550.5 479.5 L549.5 480.5 L549.5 489.5 L550.5 490.5M549.5 489.5 L554.5 480.5M560.5 490.5 L564.5 490.5 L565.5 489.5 L565.5 480.5 L564.5 479.5 L560.5 479.5 L559.5 480.5 L559.5 489.5 L560.5 490.5M559.5 489.5 L565.5 480.5M570.5 490.5 L574.5 490.5 L575.5 489.5 L575.5 480.5 L574.5 479.5 L570.5 479.5 L569.5 480.5 L569.5 489.5 L570.5 490.5M570.5 489.5 L575.5 480.5M590.5 490.5 L590.5 479.5 L593.5 485.5 L596.5 479.5 L596.5 490.5M600.5 479.5 L600.5 490.5M606.5 479.5 L606.5 490.5M600.5 485.5 L606.5 485.5M611.5 483.5 L617.5 483.5 L611.5 490.5 L617.5 490.5"/><rect class="f" x="540" y="489" width="2" height="2"/></g>
<g role="img" aria-label="dB"><title>dB</title><path class="t" d="M8.5 40.5 L8.5 51.5M8.5 50.5 L7.5 51.5 L3.5 51.5 L2.5 50.5 L2.5 45.5 L3.5 44.5 L7.5 44.5 L8.5 45.5M12.5 40.5 L16.5 40.5 L17.5 41.5 L17.5 44.5 L16.5 45.5 L13.5 45.5M16.5 45.5 L17.5 46.5 L17.5 50.5 L16.5 51.5 L12.5 51.5M13.5 40.5 L13.5 51.5"/></g>
<g role="img" aria-label="-20"><title>-20</title><path class="t" d="M12.5 63.5 L18.5 63.5M22.5 59.5 L22.5 59.5 L24.5 57.5 L27.5 57.5 L28.5 59.5 L28.5 61.5 L22.5 67.5 L22.5 68.5 L28.5 68.5M33.5 68.5 L37.5 68.5 L38.5 67.5 L38.5 58.5 L37.5 57.5 L33.5 57.5 L32.5 58.5 L32.5 67.5 L33.5 68.5M33.5 68.5 L38.5 58.5"/></g>
<g role="img" aria-label="-30"><title>-30</title><path class="t" d="M12.5 83.5 L18.5 83.5M22.5 79.5 L24.5 78.5 L27.5 78.5 L28.5 79.5 L28.5 81.5 L27.5 83.5 L25.5 83.5M27.5 83.5 L28.5 84.5 L28.5 87.5 L27.5 89.5 L24.5 89.5 L22.5 87.5M33.5 89.5 L37.5 89.5 L38.5 88.5 L38.5 79.5 L37.5 78.5 L33.5 78.5 L32.5 79.5 L32.5 88.5 L33.5 89.5M33.5 88.5 L38.5 78.5"/></g>
<g role="img" aria-label="-40"><title>-40</title><path class="t" d="M12.5 104.5 L18.5 104.5M22.5 98.5 L22.5 105.5 L28.5 105.5M26.5 100.5 L26.5 109.5M33.5 109.5 L37.5 109.5 L38.5 108.5 L38.5 99.5 L37.5 98.5 L33.5 98.5 L32.5 99.5 L32.5 108.5 L33.5 109.5M33.5 109.5 L38.5 99.5"/></g>
<g role="img" aria-label="-50"><title>-50</title><path class="t" d="M12.5 124.5 L18.5 124.5M28.5 119.5 L22.5 119.5 L22.5 124.5 L24.5 122.5 L27.5 122.5 L28.5 124.5 L28.5 128.5 L27.5 130.5 L24.5 130.5 L22.5 128.5M33.5 130.5 L37.5 130.5 L38.5 129.5 L38.5 120.5 L37.5 119.5 L33.5 119.5 L32.5 120.5 L32.5 129.5 L33.5 130.5M33.5 129.5 L38.5 119.5"/></g>
<g role="img" aria-label="-60"><title>-60</title><path class="t" d="M12.5 145.5 L18.5 145.5M27.5 139.5 L26.5 139.5 L22.5 145.5 L22.5 148.5 L25.5 150.5 L26.5 150.5 L28.5 148.5 L28.5 146.5 L26.5 144.5 L25.5 144.5 L22.5 146.5M33.5 150.5 L37.5 150.5 L38.5 149.5 L38.5 140.5 L37.5 139.5 L33.5 139.5 L32.5 140.5 L32.5 149.5 L33.5 150.5M33.5 150.5 L38.5 140.5"/></g>
<g role="img" aria-label="-70"><title>-70</title><path class="t" d="M12.5 165.5 L18.5 165.5M22.5 160.5 L28.5 160.5 L28.5 161.5 L24.5 171.5M33.5 171.5 L37.5 171.5 L38.5 170.5 L38.5 161.5 L37.5 160.5 L33.5 160.5 L32.5 161.5 L32.5 170.5 L33.5 171.5M33.5 170.5 L38.5 160.5"/></g>
<g role="img" aria-label="-80"><title>-80</title><path class="t" d="M12.5 186.5 L18.5 186.5M24.5 185.5 L23.5 184.5 L23.5 181.5 L24.5 180.5 L27.5 180.5 L28.5 181.5 L28.5 184.5 L27.5 185.5 L24.5 185.5 L22.5 187.5 L22.5 190.5 L24.5 191.5 L27.5 191.5 L28.5 190.5 L28.5 187.5 L27.5 185.5M33.5 191.5 L37.5 191.5 L38.5 190.5 L38.5 181.5 L37.5 180.5 L33.5 180.5 L32.5 181.5 L32.5 190.5 L33.5 191.5M33.5 191.5 L38.5 181.5"/></g>
<g role="img" aria-label="Abs"><title>Abs</title><path class="t" d="M2.5 214.5 L2.5 208.5 L5.5 203.5 L8.5 208.5 L8.5 214.5M2.5 209.5 L8.5 209.5M12.5 203.5 L12.5 214.5M12.5 213.5 L13.5 214.5 L17.5 214.5 L18.5 213.5 L18.5 208.5 L17.5 207.5 L13.5 207.5 L12.5 208.5M28.5 208.5 L28.5 208.5 L27.5 207.5 L23.5 207.5 L22.5 208.5 L22.5 209.5 L23.5 210.5 L27.5 210.5 L28.5 211.5 L28.5 213.5 L27.5 214.5 L23.5 214.5 L22.5 213.5 L22.5 213.5"/></g>
<g role="img" aria-label="dB"><title>dB</title><path class="t" d="M8.5 286.5 L8.5 297.5M8.5 296.5 L7.5 297.5 L3.5 297.5 L2.5 296.5 L2.5 291.5 L3.5 290.5 L7.5 290.5 L8.5 291.5M12.5 286.5 L16.5 286.5 L17.5 287.5 L17.5 290.5 L16.5 291.5 L13.5 291.5M16.5 291.5 L17.5 292.5 L17.5 296.5 L16.5 297.5 L12.5 297.5M13.5 286.5 L13.5 297.5"/></g>
<g role="img" aria-label="-5"><title>-5</title><path class="t" d="M22.5 310.5 L28.5 310.5M38.5 304.5 L32.5 304.5 L32.5 309.5 L34.5 308.5 L37.5 308.5 L38.5 309.5 L38.5 314.5 L37.5 315.5 L34.5 315.5 L32.5 314.5"/></g>
<g role="img" aria-label="-10"><title>-10</title><path class="t" d="M12.5 330.5 L18.5 330.5M24.5 326.5 L25.5 325.5 L25.5 336.5M23.5 336.5 L27.5 336.5M33.5 336.5 L37.5 336.5 L38.5 335.5 L38.5 326.5 L37.5 325.5 L33.5 325.5 L32.5 326.5 L32.5 335.5 L33.5 336.5M33.5 335.5 L38.5 325.5"/></g>
<g role="img" aria-label="-15"><title>-15</title><path class="t" d="M12.5 351.5 L18.5 351.5M24.5 347.5 L25.5 345.5 L25.5 356.5M23.5 356.5 L27.5 356.5M38.5 345.5 L32.5 345.5 L32.5 350.5 L34.5 349.5 L37.5 349.5 L38.5 350.5 L38.5 355.5 L37.5 356.5 L34.5 356.5 L32.5 355.5"/></g>
<g role="img" aria-label="-20"><title>-20</title><path class="t" d="M12.5 371.5 L18.5 371.5M22.5 368.5 L22.5 367.5 L24.5 366.5 L27.5 366.5 L28.5 367.5 L28.5 369.5 L22.5 375.5 L22.5 377.5 L28.5 377.5M33.5 377.5 L37.5 377.5 L38.5 376.5 L38.5 367.5 L37.5 366.5 L33.5 366.5 L32.5 367.5 L32.5 376.5 L33.5 377.5M33.5 376.5 L38.5 366.5"/></g>
<g role="img" aria-label="-25"><title>-25</title><path class="t" d="M12.5 392.5 L18.5 392.5M22.5 388.5 L22.5 388.5 L24.5 386.5 L27.5 386.5 L28.5 388.5 L28.5 390.5 L22.5 396.5 L22.5 397.5 L28.5 397.5M38.5 386.5 L32.5 386.5 L32.5 391.5 L34.5 390.5 L37.5 390.5 L38.5 391.5 L38.5 396.5 L37.5 397.5 L34.5 397.5 L32.5 396.5"/></g>
<g role="img" aria-label="-30"><title>-30</title><path class="t" d="M12.5 412.5 L18.5 412.5M22.5 408.5 L24.5 407.5 L27.5 407.5 L28.5 408.5 L28.5 410.5 L27.5 412.5 L25.5 412.5M27.5 412.5 L28.5 413.5 L28.5 416.5 L27.5 418.5 L24.5 418.5 L22.5 416.5M33.5 418.5 L37.5 418.5 L38.5 417.5 L38.5 408.5 L37.5 407.5 L33.5 407.5 L32.5 408.5 L32.5 417.5 L33.5 418.5M33.5 417.5 L38.5 407.5"/></g>
<g role="img" aria-label="-35"><title>-35</title><path class="t" d="M12.5 433.5 L18.5 433.5M22.5 429.5 L24.5 427.5 L27.5 427.5 L28.5 429.5 L28.5 431.5 L27.5 432.5 L25.5 432.5M27.5 432.5 L28.5 434.5 L28.5 437.5 L27.5 438.5 L24.5 438.5 L22.5 437.5M38.5 427.5 L32.5 427.5 L32.5 432.5 L34.5 431.5 L37.5 431.5 L38.5 432.5 L38.5 437.5 L37.5 438.5 L34.5 438.5 L32.5 437.5"/></g>
<g role="img" aria-label="Abs"><title>Abs</title><path class="t" d="M2.5 460.5 L2.5 454.5 L5.5 449.5 L8.5 454.5 L8.5 460.5M2.5 455.5 L8.5 455.5M12.5 449.5 L12.5 460.5M12.5 459.5 L13.5 460.5 L17.5 460.5 L18.5 459.5 L18.5 454.5 L17.5 453.5 L13.5 453.5 L12.5 454.5M28.5 454.5 L28.5 454.5 L27.5 453.5 L23.5 453.5 L22.5 454.5 L22.5 455.5 L23.5 456.5 L27.5 456.5 L28.5 457.5 L28.5 459.5 L27.5 460.5 L23.5 460.5 L22.5 459.5 L22.5 459.5"/></g>
<path class="g" d="M44 493.5 H611 M44 513.8 H611 M44 656.5 H611 M44.5 493.5 V656.5 M610.5 493.5 V656.5 M320.5 493.5 V656.5"/>
<g role="img" aria-label="1:Mkr (MHz)    dB"><title>1:Mkr (MHz)    dB</title><path class="t" d="M48.5 498.5 L49.5 497.5 L49.5 508.5M47.5 508.5 L51.5 508.5M66.5 508.5 L66.5 497.5 L69.5 503.5 L72.5 497.5 L72.5 508.5M76.5 497.5 L76.5 508.5M81.5 501.5 L76.5 505.5M78.5 504.5 L82.5 508.5M87.5 501.5 L87.5 508.5M87.5 503.5 L89.5 501.5 L92.5 501.5 L92.5 502.5 L92.5 503.5M111.5 497.5 L110.5 499.5 L110.5 506.5 L111.5 508.5M118.5 508.5 L118.5 497.5 L121.5 503.5 L124.5 497.5 L124.5 508.5M128.5 497.5 L128.5 508.5M134.5 497.5 L134.5 508.5M128.5 503.5 L134.5 503.5M138.5 501.5 L144.5 501.5 L138.5 508.5 L144.5 508.5M151.5 497.5 L152.5 499.5 L152.5 506.5 L151.5 508.5M206.5 497.5 L206.5 508.5M206.5 507.5 L205.5 508.5 L201.5 508.5 L200.5 507.5 L200.5 502.5 L201.5 501.5 L205.5 501.5 L206.5 502.5M210.5 497.5 L214.5 497.5 L215.5 498.5 L215.5 501.5 L214.5 502.5 L211.5 502.5M214.5 502.5 L216.5 503.5 L216.5 507.5 L215.5 508.5 L210.5 508.5M211.5 497.5 L211.5 508.5"/><rect class="f" x="57" y="507" width="2" height="2"/><rect class="f" x="57" y="501" width="2" height="2"/></g>
<g role="img" aria-label="1: 88.00 MHz -92.56 dB"><title>1: 88.00 MHz -92.56 dB</title><path class="t" d="M99.5 522.5 L98.5 521.5 L98.5 518.5 L99.5 517.5 L102.5 517.5 L103.5 518.5 L103.5 521.5 L102.5 522.5 L99.5 522.5 L97.5 523.5 L97.5 526.5 L99.5 528.5 L102.5 528.5 L103.5 526.5 L103.5 523.5 L102.5 522.5M109.5 522.5 L108.5 521.5 L108.5 518.5 L109.5 517.5 L112.5 517.5 L113.5 518.5 L113.5 521.5 L112.5 522.5 L109.5 522.5 L107.5 523.5 L107.5 526.5 L109.5 528.5 L112.5 528.5 L113.5 526.5 L113.5 523.5 L112.5 522.5M129.5 528.5 L133.5 528.5 L134.5 527.5 L134.5 518.5 L133.5 517.5 L129.5 517.5 L128.5 518.5 L128.5 527.5 L129.5 528.5M128.5 527.5 L134.5 517.5M139.5 528.5 L143.5 528.5 L144.5 527.5 L144.5 518.5 L143.5 517.5 L139.5 517.5 L138.5 518.5 L138.5 527.5 L139.5 528.5M139.5 527.5 L144.5 517.5M179.5 522.5 L185.5 522.5M191.5 528.5 L192.5 528.5 L196.5 522.5 L196.5 519.5 L193.5 517.5 L192.5 517.5 L190.5 519.5 L190.5 521.5 L192.5 523.5 L193.5 523.5 L196.5 521.5M200.5 519.5 L200.5 518.5 L202.5 517.5 L205.5 517.5 L206.5 518.5 L206.5 520.5 L200.5 526.5 L200.5 528.5 L206.5 528.5M227.5 517.5 L221.5 517.5 L221.5 521.5 L222.5 520.5 L225.5 520.5 L227.5 522.5 L227.5 526.5 L225.5 528.5 L222.5 528.5 L221.5 526.5M236.5 517.5 L235.5 517.5 L231.5 523.5 L231.5 526.5 L233.5 528.5 L234.5 528.5 L237.5 526.5 L237.5 524.5 L234.5 521.5 L233.5 521.5 L231.5 524.5"/><rect class="f" x="57" y="527" width="2" height="2"/><rect class="f" x="57" y="520" width="2" height="2"/><rect class="f" x="119" y="527" width="2" height="2"/><rect class="f" x="212" y="527" width="2" height="2"/></g>
<g role="img" aria-label="marker 1"><title>marker 1</title><path class="t" d="M47.5 518.5 L48.5 517.5 L48.5 528.5M46.5 528.5 L50.5 528.5"/></g>
<g role="img" aria-label="2: 108.00 MHz -93.17 dB"><title>2: 108.00 MHz -93.17 dB</title><path class="t" d="M89.5 536.5 L90.5 535.5 L90.5 546.5M88.5 546.5 L92.5 546.5M98.5 546.5 L102.5 546.5 L103.5 545.5 L103.5 536.5 L102.5 535.5 L98.5 535.5 L97.5 536.5 L97.5 545.5 L98.5 546.5M97.5 545.5 L103.5 535.5M109.5 540.5 L108.5 539.5 L108.5 536.5 L109.5 535.5 L112.5 535.5 L113.5 536.5 L113.5 539.5 L112.5 540.5 L109.5 540.5 L107.5 541.5 L107.5 544.5 L109.5 546.5 L112.5 546.5 L113.5 544.5 L113.5 541.5 L112.5 540.5M129.5 546.5 L133.5 546.5 L134.5 545.5 L134.5 536.5 L133.5 535.5 L129.5 535.5 L128.5 536.5 L128.5 545.5 L129.5 546.5M128.5 545.5 L134.5 535.5M139.5 546.5 L143.5 546.5 L144.5 545.5 L144.5 536.5 L143.5 535.5 L139.5 535.5 L138.5 536.5 L138.5 545.5 L139.5 546.5M139.5 545.5 L144.5 535.5M179.5 540.5 L185.5 540.5M191.5 546.5 L192.5 546.5 L196.5 540.5 L196.5 536.5 L193.5 535.5 L192.5 535.5 L190.5 536.5 L190.5 539.5 L192.5 541.5 L193.5 541.5 L196.5 539.5M200.5 536.5 L202.5 535.5 L205.5 535.5 L206.5 536.5 L206.5 538.5 L205.5 540.5 L203.5 540.5M205.5 540.5 L206.5 541.5 L206.5 544.5 L205.5 546.5 L202.5 546.5 L200.5 544.5M223.5 536.5 L224.5 535.5 L224.5 546.5M222.5 546.5 L226.5 546.5M231.5 535.5 L237.5 535.5 L237.5 536.5 L233.5 546.5"/><rect class="f" x="57" y="545" width="2" height="2"/><rect class="f" x="57" y="538" width="2" height="2"/><rect class="f" x="119" y="545" width="2" height="2"/><rect class="f" x="212" y="545" width="2" height="2"/></g>
<g role="img" aria-label="marker 2"><title>marker 2</title><path class="t" d="M45.5 536.5 L45.5 536.5 L46.5 535.5 L49.5 535.5 L51.5 536.5 L51.5 538.5 L45.5 544.5 L45.5 546.5 L51.5 546.5"/></g>
<g role="img" aria-label="3: 144.00 MHz -1.60 dB"><title>3: 144.00 MHz -1.60 dB</title><path class="t" d="M89.5 554.5 L90.5 553.5 L90.5 564.5M88.5 564.5 L92.5 564.5M97.5 553.5 L97.5 559.5 L103.5 559.5M101.5 554.5 L101.5 564.5M107.5 553.5 L107.5 559.5 L113.5 559.5M111.5 554.5 L111.5 564.5M129.5 564.5 L133.5 564.5 L134.5 563.5 L134.5 553.5 L133.5 553.5 L129.5 553.5 L128.5 553.5 L128.5 563.5 L129.5 564.5M128.5 563.5 L134.5 553.5M139.5 564.5 L143.5 564.5 L144.5 563.5 L144.5 553.5 L143.5 553.5 L139.5 553.5 L138.5 553.5 L138.5 563.5 L139.5 564.5M139.5 563.5 L144.5 553.5M190.5 558.5 L196.5 558.5M202.5 554.5 L203.5 553.5 L203.5 564.5M201.5 564.5 L205.5 564.5M226.5 553.5 L225.5 553.5 L221.5 558.5 L221.5 562.5 L223.5 564.5 L224.5 564.5 L227.5 562.5 L227.5 559.5 L224.5 557.5 L223.5 557.5 L221.5 559.5M232.5 564.5 L236.5 564.5 L237.5 563.5 L237.5 553.5 L236.5 553.5 L232.5 553.5 L231.5 553.5 L231.5 563.5 L232.5 564.5M231.5 563.5 L237.5 553.5"/><rect class="f" x="57" y="562" width="2" height="2"/><rect class="f" x="57" y="556" width="2" height="2"/><rect class="f" x="119" y="562" width="2" height="2"/><rect class="f" x="212" y="562" width="2" height="2"/></g>
<g role="img" aria-label="marker 3"><title>marker 3</title><path class="t" d="M45.5 554.5 L46.5 553.5 L49.5 553.5 L51.5 554.5 L51.5 556.5 L49.5 558.5 L47.5 558.5M49.5 558.5 L51.5 559.5 L51.5 562.5 L49.5 564.5 L46.5 564.5 L45.5 562.5"/></g>
<g role="img" aria-label="4&gt; 145.24 MHz -10.27 dB"><title>4&gt; 145.24 MHz -10.27 dB</title><path class="t" d="M57.5 572.5 L61.5 576.5 L57.5 579.5M89.5 572.5 L90.5 570.5 L90.5 581.5M88.5 581.5 L92.5 581.5M97.5 570.5 L97.5 577.5 L103.5 577.5M101.5 572.5 L101.5 581.5M113.5 570.5 L107.5 570.5 L107.5 575.5 L109.5 574.5 L112.5 574.5 L113.5 575.5 L113.5 580.5 L112.5 581.5 L109.5 581.5 L107.5 580.5M128.5 572.5 L128.5 572.5 L129.5 570.5 L132.5 570.5 L134.5 572.5 L134.5 574.5 L128.5 580.5 L128.5 581.5 L134.5 581.5M138.5 570.5 L138.5 577.5 L144.5 577.5M142.5 572.5 L142.5 581.5M179.5 576.5 L185.5 576.5M192.5 572.5 L193.5 570.5 L193.5 581.5M191.5 581.5 L195.5 581.5M201.5 581.5 L205.5 581.5 L206.5 580.5 L206.5 571.5 L205.5 570.5 L201.5 570.5 L200.5 571.5 L200.5 580.5 L201.5 581.5M200.5 581.5 L206.5 571.5M221.5 572.5 L221.5 572.5 L222.5 570.5 L225.5 570.5 L227.5 572.5 L227.5 574.5 L221.5 580.5 L221.5 581.5 L227.5 581.5M231.5 570.5 L237.5 570.5 L237.5 571.5 L233.5 581.5"/><rect class="f" x="119" y="580" width="2" height="2"/><rect class="f" x="212" y="580" width="2" height="2"/></g>
<g role="img" aria-label="marker 4"><title>marker 4</title><path class="t" d="M45.5 570.5 L45.5 577.5 L51.5 577.5M49.5 572.5 L49.5 581.5"/></g>
<g role="img" aria-label="5: 145.60 MHz -21.75 dB"><title>5: 145.60 MHz -21.75 dB</title><path class="t" d="M89.5 590.5 L90.5 588.5 L90.5 599.5M88.5 599.5 L92.5 599.5M97.5 588.5 L97.5 595.5 L103.5 595.5M101.5 590.5 L101.5 599.5M113.5 588.5 L107.5 588.5 L107.5 593.5 L109.5 592.5 L112.5 592.5 L113.5 593.5 L113.5 598.5 L112.5 599.5 L109.5 599.5 L107.5 598.5M133.5 588.5 L132.5 588.5 L128.5 594.5 L128.5 597.5 L130.5 599.5 L131.5 599.5 L134.5 597.5 L134.5 595.5 L131.5 593.5 L130.5 593.5 L128.5 595.5M139.5 599.5 L143.5 599.5 L144.5 598.5 L144.5 589.5 L143.5 588.5 L139.5 588.5 L138.5 589.5 L138.5 598.5 L139.5 599.5M139.5 599.5 L144.5 589.5M179.5 594.5 L185.5 594.5M190.5 590.5 L190.5 590.5 L191.5 588.5 L194.5 588.5 L196.5 590.5 L196.5 592.5 L190.5 598.5 L190.5 599.5 L196.5 599.5M202.5 590.5 L203.5 588.5 L203.5 599.5M201.5 599.5 L205.5 599.5M221.5 588.5 L227.5 588.5 L227.5 589.5 L223.5 599.5M237.5 588.5 L231.5 588.5 L231.5 593.5 L232.5 592.5 L235.5 592.5 L237.5 593.5 L237.5 598.5 L235.5 599.5 L232.5 599.5 L231.5 598.5"/><rect class="f" x="57" y="598" width="2" height="2"/><rect class="f" x="57" y="592" width="2" height="2"/><rect class="f" x="119" y="598" width="2" height="2"/><rect class="f" x="212" y="598" width="2" height="2"/></g>
<g role="img" aria-label="marker 5"><title>marker 5</title><path class="t" d="M51.5 588.5 L45.5 588.5 L45.5 593.5 L46.5 592.5 L49.5 592.5 L51.5 593.5 L51.5 598.5 L49.5 599.5 L46.5 599.5 L45.5 598.5"/></g>
<g role="img" aria-label="6: 146.00 MHz -34.49 dB"><title>6: 146.00 MHz -34.49 dB</title><path class="t" d="M89.5 608.5 L90.5 606.5 L90.5 617.5M88.5 617.5 L92.5 617.5M97.5 606.5 L97.5 613.5 L103.5 613.5M101.5 608.5 L101.5 617.5M112.5 606.5 L111.5 606.5 L107.5 612.5 L107.5 615.5 L110.5 617.5 L111.5 617.5 L113.5 615.5 L113.5 613.5 L111.5 611.5 L110.5 611.5 L107.5 613.5M129.5 617.5 L133.5 617.5 L134.5 616.5 L134.5 607.5 L133.5 606.5 L129.5 606.5 L128.5 607.5 L128.5 616.5 L129.5 617.5M128.5 616.5 L134.5 607.5M139.5 617.5 L143.5 617.5 L144.5 616.5 L144.5 607.5 L143.5 606.5 L139.5 606.5 L138.5 607.5 L138.5 616.5 L139.5 617.5M139.5 616.5 L144.5 607.5M179.5 612.5 L185.5 612.5M190.5 608.5 L191.5 606.5 L194.5 606.5 L196.5 608.5 L196.5 610.5 L194.5 611.5 L192.5 611.5M194.5 611.5 L196.5 613.5 L196.5 616.5 L194.5 617.5 L191.5 617.5 L190.5 616.5M200.5 606.5 L200.5 613.5 L206.5 613.5M204.5 608.5 L204.5 617.5M221.5 606.5 L221.5 613.5 L227.5 613.5M225.5 608.5 L225.5 617.5M232.5 617.5 L233.5 617.5 L237.5 611.5 L237.5 608.5 L234.5 606.5 L233.5 606.5 L231.5 608.5 L231.5 610.5 L233.5 612.5 L234.5 612.5 L237.5 610.5"/><rect class="f" x="57" y="616" width="2" height="2"/><rect class="f" x="57" y="610" width="2" height="2"/><rect class="f" x="119" y="616" width="2" height="2"/><rect class="f" x="212" y="616" width="2" height="2"/></g>
<g role="img" aria-label="marker 6"><title>marker 6</title><path class="t" d="M50.5 606.5 L49.5 606.5 L45.5 612.5 L45.5 615.5 L47.5 617.5 L48.5 617.5 L51.5 615.5 L51.5 613.5 L48.5 611.5 L47.5 611.5 L45.5 613.5"/></g>
<g role="img" aria-label="7: 156.00 MHz -19.70 dB"><title>7: 156.00 MHz -19.70 dB</title><path class="t" d="M89.5 625.5 L90.5 624.5 L90.5 635.5M88.5 635.5 L92.5 635.5M103.5 624.5 L97.5 624.5 L97.5 629.5 L99.5 628.5 L102.5 628.5 L103.5 629.5 L103.5 634.5 L102.5 635.5 L99.5 635.5 L97.5 634.5M112.5 624.5 L111.5 624.5 L107.5 630.5 L107.5 633.5 L110.5 635.5 L111.5 635.5 L113.5 633.5 L113.5 631.5 L111.5 629.5 L110.5 629.5 L107.5 631.5M129.5 635.5 L133.5 635.5 L134.5 634.5 L134.5 625.5 L133.5 624.5 L129.5 624.5 L128.5 625.5 L128.5 634.5 L129.5 635.5M128.5 634.5 L134.5 625.5M139.5 635.5 L143.5 635.5 L144.5 634.5 L144.5 625.5 L143.5 624.5 L139.5 624.5 L138.5 625.5 L138.5 634.5 L139.5 635.5M139.5 634.5 L144.5 625.5M179.5 630.5 L185.5 630.5M192.5 625.5 L193.5 624.5 L193.5 635.5M191.5 635.5 L195.5 635.5M201.5 635.5 L202.5 635.5 L206.5 629.5 L206.5 626.5 L204.5 624.5 L203.5 624.5 L200.5 626.5 L200.5 628.5 L203.5 630.5 L204.5 630.5 L206.5 628.5M221.5 624.5 L227.5 624.5 L227.5 625.5 L223.5 635.5M232.5 635.5 L236.5 635.5 L237.5 634.5 L237.5 625.5 L236.5 624.5 L232.5 624.5 L231.5 625.5 L231.5 634.5 L232.5 635.5M231.5 634.5 L237.5 625.5"/><rect class="f" x="57" y="634" width="2" height="2"/><rect class="f" x="57" y="628" width="2" height="2"/><rect class="f" x="119" y="634" width="2" height="2"/><rect class="f" x="212" y="634" width="2" height="2"/></g>
<g role="img" aria-label="marker 7"><title>marker 7</title><path class="t" d="M45.5 624.5 L51.5 624.5 L51.5 625.5 L47.5 635.5"/></g>
<g role="img" aria-label="8: 174.00 MHz -35.74 dB"><title>8: 174.00 MHz -35.74 dB</title><path class="t" d="M89.5 643.5 L90.5 642.5 L90.5 653.5M88.5 653.5 L92.5 653.5M97.5 642.5 L103.5 642.5 L103.5 643.5 L99.5 653.5M107.5 642.5 L107.5 649.5 L113.5 649.5M111.5 644.5 L111.5 653.5M129.5 653.5 L133.5 653.5 L134.5 652.5 L134.5 643.5 L133.5 642.5 L129.5 642.5 L128.5 643.5 L128.5 652.5 L129.5 653.5M128.5 652.5 L134.5 643.5M139.5 653.5 L143.5 653.5 L144.5 652.5 L144.5 643.5 L143.5 642.5 L139.5 642.5 L138.5 643.5 L138.5 652.5 L139.5 653.5M139.5 652.5 L144.5 643.5M179.5 648.5 L185.5 648.5M190.5 643.5 L191.5 642.5 L194.5 642.5 L196.5 643.5 L196.5 646.5 L194.5 647.5 L192.5 647.5M194.5 647.5 L196.5 648.5 L196.5 652.5 L194.5 653.5 L191.5 653.5 L190.5 652.5M206.5 642.5 L200.5 642.5 L200.5 647.5 L202.5 645.5 L205.5 645.5 L206.5 647.5 L206.5 652.5 L205.5 653.5 L202.5 653.5 L200.5 652.5M221.5 642.5 L227.5 642.5 L227.5 643.5 L223.5 653.5M231.5 642.5 L231.5 649.5 L237.5 649.5M235.5 644.5 L235.5 653.5"/><rect class="f" x="57" y="652" width="2" height="2"/><rect class="f" x="57" y="646" width="2" height="2"/><rect class="f" x="119" y="652" width="2" height="2"/><rect class="f" x="212" y="652" width="2" height="2"/></g>
<g role="img" aria-label="marker 8"><title>marker 8</title><path class="t" d="M46.5 647.5 L45.5 646.5 L45.5 643.5 L46.5 642.5 L49.5 642.5 L50.5 643.5 L50.5 646.5 L49.5 647.5 L46.5 647.5 L45.5 648.5 L45.5 652.5 L46.5 653.5 L49.5 653.5 L51.5 652.5 L51.5 648.5 L49.5 647.5"/></g>
<g role="img" aria-label="2:Mkr (MHz)    dB"><title>2:Mkr (MHz)    dB</title><path class="t" d="M329.5 499.5 L329.5 498.5 L330.5 497.5 L333.5 497.5 L335.5 498.5 L335.5 501.5 L329.5 507.5 L329.5 508.5 L335.5 508.5M349.5 508.5 L349.5 497.5 L352.5 503.5 L355.5 497.5 L355.5 508.5M359.5 497.5 L359.5 508.5M364.5 501.5 L359.5 505.5M361.5 504.5 L365.5 508.5M370.5 501.5 L370.5 508.5M370.5 503.5 L372.5 501.5 L375.5 501.5 L375.5 502.5 L375.5 503.5M394.5 497.5 L393.5 499.5 L393.5 506.5 L394.5 508.5M401.5 508.5 L401.5 497.5 L404.5 503.5 L407.5 497.5 L407.5 508.5M411.5 497.5 L411.5 508.5M417.5 497.5 L417.5 508.5M411.5 503.5 L417.5 503.5M421.5 501.5 L427.5 501.5 L421.5 508.5 L427.5 508.5M434.5 497.5 L435.5 499.5 L435.5 506.5 L434.5 508.5M489.5 497.5 L489.5 508.5M489.5 507.5 L488.5 508.5 L484.5 508.5 L483.5 507.5 L483.5 502.5 L484.5 501.5 L488.5 501.5 L489.5 502.5M493.5 497.5 L497.5 497.5 L498.5 498.5 L498.5 501.5 L497.5 502.5 L494.5 502.5M497.5 502.5 L499.5 503.5 L499.5 507.5 L498.5 508.5 L493.5 508.5M494.5 497.5 L494.5 508.5"/><rect class="f" x="340" y="507" width="2" height="2"/><rect class="f" x="340" y="501" width="2" height="2"/></g>
<g role="img" aria-label="1&gt; 88.00 MHz -1.23 dB"><title>1&gt; 88.00 MHz -1.23 dB</title><path class="t" d="M340.5 519.5 L344.5 522.5 L340.5 526.5M382.5 522.5 L381.5 521.5 L381.5 518.5 L382.5 517.5 L385.5 517.5 L386.5 518.5 L386.5 521.5 L385.5 522.5 L382.5 522.5 L380.5 523.5 L380.5 526.5 L382.5 528.5 L385.5 528.5 L386.5 526.5 L386.5 523.5 L385.5 522.5M392.5 522.5 L391.5 521.5 L391.5 518.5 L392.5 517.5 L395.5 517.5 L396.5 518.5 L396.5 521.5 L395.5 522.5 L392.5 522.5 L390.5 523.5 L390.5 526.5 L392.5 528.5 L395.5 528.5 L396.5 526.5 L396.5 523.5 L395.5 522.5M412.5 528.5 L416.5 528.5 L417.5 527.5 L417.5 518.5 L416.5 517.5 L412.5 517.5 L411.5 518.5 L411.5 527.5 L412.5 528.5M411.5 527.5 L417.5 517.5M422.5 528.5 L426.5 528.5 L427.5 527.5 L427.5 518.5 L426.5 517.5 L422.5 517.5 L421.5 518.5 L421.5 527.5 L422.5 528.5M422.5 527.5 L427.5 517.5M473.5 522.5 L479.5 522.5M485.5 518.5 L486.5 517.5 L486.5 528.5M484.5 528.5 L488.5 528.5M504.5 519.5 L504.5 518.5 L505.5 517.5 L508.5 517.5 L510.5 518.5 L510.5 520.5 L504.5 526.5 L504.5 528.5 L510.5 528.5M514.5 518.5 L515.5 517.5 L518.5 517.5 L520.5 518.5 L520.5 520.5 L518.5 522.5 L516.5 522.5M518.5 522.5 L520.5 523.5 L520.5 526.5 L518.5 528.5 L515.5 528.5 L514.5 526.5"/><rect class="f" x="402" y="527" width="2" height="2"/><rect class="f" x="495" y="527" width="2" height="2"/></g>
<g role="img" aria-label="marker 1"><title>marker 1</title><path class="t" d="M331.5 518.5 L332.5 517.5 L332.5 528.5M330.5 528.5 L334.5 528.5"/></g>
<g role="img" aria-label="2: 108.00 MHz -1.18 dB"><title>2: 108.00 MHz -1.18 dB</title><path class="t" d="M372.5 536.5 L373.5 535.5 L373.5 546.5M371.5 546.5 L375.5 546.5M381.5 546.5 L385.5 546.5 L386.5 545.5 L386.5 536.5 L385.5 535.5 L381.5 535.5 L380.5 536.5 L380.5 545.5 L381.5 546.5M380.5 545.5 L386.5 535.5M392.5 540.5 L391.5 539.5 L391.5 536.5 L392.5 535.5 L395.5 535.5 L396.5 536.5 L396.5 539.5 L395.5 540.5 L392.5 540.5 L390.5 541.5 L390.5 544.5 L392.5 546.5 L395.5 546.5 L396.5 544.5 L396.5 541.5 L395.5 540.5M412.5 546.5 L416.5 546.5 L417.5 545.5 L417.5 536.5 L416.5 535.5 L412.5 535.5 L411.5 536.5 L411.5 545.5 L412.5 546.5M411.5 545.5 L417.5 535.5M422.5 546.5 L426.5 546.5 L427.5 545.5 L427.5 536.5 L426.5 535.5 L422.5 535.5 L421.5 536.5 L421.5 545.5 L422.5 546.5M422.5 545.5 L427.5 535.5M473.5 540.5 L479.5 540.5M485.5 536.5 L486.5 535.5 L486.5 546.5M484.5 546.5 L488.5 546.5M506.5 536.5 L507.5 535.5 L507.5 546.5M505.5 546.5 L509.5 546.5M515.5 540.5 L514.5 539.5 L514.5 536.5 L515.5 535.5 L518.5 535.5 L519.5 536.5 L519.5 539.5 L518.5 540.5 L515.5 540.5 L514.5 541.5 L514.5 544.5 L515.5 546.5 L518.5 546.5 L520.5 544.5 L520.5 541.5 L518.5 540.5"/><rect class="f" x="340" y="545" width="2" height="2"/><rect class="f" x="340" y="538" width="2" height="2"/><rect class="f" x="402" y="545" width="2" height="2"/><rect class="f" x="495" y="545" width="2" height="2"/></g>
<g role="img" aria-label="marker 2"><title>marker 2</title><path class="t" d="M329.5 536.5 L329.5 536.5 L330.5 535.5 L333.5 535.5 L335.5 536.5 L335.5 538.5 L329.5 544.5 L329.5 546.5 L335.5 546.5"/></g>
<g role="img" aria-label="3: 144.00 MHz -34.46 dB"><title>3: 144.00 MHz -34.46 dB</title><path class="t" d="M372.5 554.5 L373.5 553.5 L373.5 564.5M371.5 564.5 L375.5 564.5M380.5 553.5 L380.5 559.5 L386.5 559.5M384.5 554.5 L384.5 564.5M390.5 553.5 L390.5 559.5 L396.5 559.5M394.5 554.5 L394.5 564.5M412.5 564.5 L416.5 564.5 L417.5 563.5 L417.5 553.5 L416.5 553.5 L412.5 553.5 L411.5 553.5 L411.5 563.5 L412.5 564.5M411.5 563.5 L417.5 553.5M422.5 564.5 L426.5 564.5 L427.5 563.5 L427.5 553.5 L426.5 553.5 L422.5 553.5 L421.5 553.5 L421.5 563.5 L422.5 564.5M422.5 563.5 L427.5 553.5M462.5 558.5 L468.5 558.5M473.5 554.5 L474.5 553.5 L477.5 553.5 L479.5 554.5 L479.5 556.5 L477.5 558.5 L475.5 558.5M477.5 558.5 L479.5 559.5 L479.5 562.5 L477.5 564.5 L474.5 564.5 L473.5 562.5M483.5 553.5 L483.5 559.5 L489.5 559.5M487.5 554.5 L487.5 564.5M504.5 553.5 L504.5 559.5 L510.5 559.5M508.5 554.5 L508.5 564.5M519.5 553.5 L518.5 553.5 L514.5 558.5 L514.5 562.5 L516.5 564.5 L517.5 564.5 L520.5 562.5 L520.5 559.5 L517.5 557.5 L516.5 557.5 L514.5 559.5"/><rect class="f" x="340" y="562" width="2" height="2"/><rect class="f" x="340" y="556" width="2" height="2"/><rect class="f" x="402" y="562" width="2" height="2"/><rect class="f" x="495" y="562" width="2" height="2"/></g>
<g role="img" aria-label="marker 3"><title>marker 3</title><path class="t" d="M329.5 554.5 L330.5 553.5 L333.5 553.5 L335.5 554.5 L335.5 556.5 L333.5 558.5 L331.5 558.5M333.5 558.5 L335.5 559.5 L335.5 562.5 L333.5 564.5 L330.5 564.5 L329.5 562.5"/></g>
<g role="img" aria-label="4: 145.24 MHz -14.70 dB"><title>4: 145.24 MHz -14.70 dB</title><path class="t" d="M372.5 572.5 L373.5 570.5 L373.5 581.5M371.5 581.5 L375.5 581.5M380.5 570.5 L380.5 577.5 L386.5 577.5M384.5 572.5 L384.5 581.5M396.5 570.5 L390.5 570.5 L390.5 575.5 L392.5 574.5 L395.5 574.5 L396.5 575.5 L396.5 580.5 L395.5 581.5 L392.5 581.5 L390.5 580.5M411.5 572.5 L411.5 572.5 L412.5 570.5 L415.5 570.5 L417.5 572.5 L417.5 574.5 L411.5 580.5 L411.5 581.5 L417.5 581.5M421.5 570.5 L421.5 577.5 L427.5 577.5M425.5 572.5 L425.5 581.5M462.5 576.5 L468.5 576.5M475.5 572.5 L476.5 570.5 L476.5 581.5M474.5 581.5 L478.5 581.5M483.5 570.5 L483.5 577.5 L489.5 577.5M487.5 572.5 L487.5 581.5M504.5 570.5 L510.5 570.5 L510.5 571.5 L506.5 581.5M515.5 581.5 L519.5 581.5 L520.5 580.5 L520.5 571.5 L519.5 570.5 L515.5 570.5 L514.5 571.5 L514.5 580.5 L515.5 581.5M514.5 581.5 L520.5 571.5"/><rect class="f" x="340" y="580" width="2" height="2"/><rect class="f" x="340" y="574" width="2" height="2"/><rect class="f" x="402" y="580" width="2" height="2"/><rect class="f" x="495" y="580" width="2" height="2"/></g>
<g role="img" aria-label="marker 4"><title>marker 4</title><path class="t" d="M329.5 570.5 L329.5 577.5 L335.5 577.5M333.5 572.5 L333.5 581.5"/></g>
<g role="img" aria-label="5: 145.60 MHz -13.29 dB"><title>5: 145.60 MHz -13.29 dB</title><path class="t" d="M372.5 590.5 L373.5 588.5 L373.5 599.5M371.5 599.5 L375.5 599.5M380.5 588.5 L380.5 595.5 L386.5 595.5M384.5 590.5 L384.5 599.5M396.5 588.5 L390.5 588.5 L390.5 593.5 L392.5 592.5 L395.5 592.5 L396.5 593.5 L396.5 598.5 L395.5 599.5 L392.5 599.5 L390.5 598.5M416.5 588.5 L415.5 588.5 L411.5 594.5 L411.5 597.5 L413.5 599.5 L414.5 599.5 L417.5 597.5 L417.5 595.5 L414.5 593.5 L413.5 593.5 L411.5 595.5M422.5 599.5 L426.5 599.5 L427.5 598.5 L427.5 589.5 L426.5 588.5 L422.5 588.5 L421.5 589.5 L421.5 598.5 L422.5 599.5M422.5 599.5 L427.5 589.5M462.5 594.5 L468.5 594.5M475.5 590.5 L476.5 588.5 L476.5 599.5M474.5 599.5 L478.5 599.5M483.5 590.5 L485.5 588.5 L488.5 588.5 L489.5 590.5 L489.5 592.5 L488.5 593.5 L486.5 593.5M488.5 593.5 L489.5 595.5 L489.5 598.5 L488.5 599.5 L485.5 599.5 L483.5 598.5M504.5 590.5 L504.5 590.5 L505.5 588.5 L508.5 588.5 L510.5 590.5 L510.5 592.5 L504.5 598.5 L504.5 599.5 L510.5 599.5M515.5 599.5 L516.5 599.5 L520.5 593.5 L520.5 590.5 L517.5 588.5 L516.5 588.5 L514.5 590.5 L514.5 592.5 L516.5 595.5 L517.5 595.5 L520.5 592.5"/><rect class="f" x="340" y="598" width="2" height="2"/><rect class="f" x="340" y="592" width="2" height="2"/><rect class="f" x="402" y="598" width="2" height="2"/><rect class="f" x="495" y="598" width="2" height="2"/></g>
<g role="img" aria-label="marker 5"><title>marker 5</title><path class="t" d="M335.5 588.5 L329.5 588.5 L329.5 593.5 L330.5 592.5 L333.5 592.5 L335.5 593.5 L335.5 598.5 L333.5 599.5 L330.5 599.5 L329.5 598.5"/></g>
<g role="img" aria-label="6: 146.00 MHz -11.73 dB"><title>6: 146.00 MHz -11.73 dB</title><path class="t" d="M372.5 608.5 L373.5 606.5 L373.5 617.5M371.5 617.5 L375.5 617.5M380.5 606.5 L380.5 613.5 L386.5 613.5M384.5 608.5 L384.5 617.5M395.5 606.5 L394.5 606.5 L390.5 612.5 L390.5 615.5 L393.5 617.5 L394.5 617.5 L396.5 615.5 L396.5 613.5 L394.5 611.5 L393.5 611.5 L390.5 613.5M412.5 617.5 L416.5 617.5 L417.5 616.5 L417.5 607.5 L416.5 606.5 L412.5 606.5 L411.5 607.5 L411.5 616.5 L412.5 617.5M411.5 616.5 L417.5 607.5M422.5 617.5 L426.5 617.5 L427.5 616.5 L427.5 607.5 L426.5 606.5 L422.5 606.5 L421.5 607.5 L421.5 616.5 L422.5 617.5M422.5 616.5 L427.5 607.5M462.5 612.5 L468.5 612.5M475.5 608.5 L476.5 606.5 L476.5 617.5M474.5 617.5 L478.5 617.5M485.5 608.5 L486.5 606.5 L486.5 617.5M484.5 617.5 L488.5 617.5M504.5 606.5 L510.5 606.5 L510.5 607.5 L506.5 617.5M514.5 608.5 L515.5 606.5 L518.5 606.5 L520.5 608.5 L520.5 610.5 L518.5 611.5 L516.5 611.5M518.5 611.5 L520.5 613.5 L520.5 616.5 L518.5 617.5 L515.5 617.5 L514.5 616.5"/><rect class="f" x="340" y="616" width="2" height="2"/><rect class="f" x="340" y="610" width="2" height="2"/><rect class="f" x="402" y="616" width="2" height="2"/><rect class="f" x="495" y="616" width="2" height="2"/></g>
<g role="img" aria-label="marker 6"><title>marker 6</title><path class="t" d="M334.5 606.5 L333.5 606.5 L329.5 612.5 L329.5 615.5 L331.5 617.5 L332.5 617.5 L335.5 615.5 L335.5 613.5 L332.5 611.5 L331.5 611.5 L329.5 613.5"/></g>
<g role="img" aria-label="7: 156.00 MHz -2.87 dB"><title>7: 156.00 MHz -2.87 dB</title><path class="t" d="M372.5 625.5 L373.5 624.5 L373.5 635.5M371.5 635.5 L375.5 635.5M386.5 624.5 L380.5 624.5 L380.5 629.5 L382.5 628.5 L385.5 628.5 L386.5 629.5 L386.5 634.5 L385.5 635.5 L382.5 635.5 L380.5 634.5M395.5 624.5 L394.5 624.5 L390.5 630.5 L390.5 633.5 L393.5 635.5 L394.5 635.5 L396.5 633.5 L396.5 631.5 L394.5 629.5 L393.5 629.5 L390.5 631.5M412.5 635.5 L416.5 635.5 L417.5 634.5 L417.5 625.5 L416.5 624.5 L412.5 624.5 L411.5 625.5 L411.5 634.5 L412.5 635.5M411.5 634.5 L417.5 625.5M422.5 635.5 L426.5 635.5 L427.5 634.5 L427.5 625.5 L426.5 624.5 L422.5 624.5 L421.5 625.5 L421.5 634.5 L422.5 635.5M422.5 634.5 L427.5 625.5M473.5 630.5 L479.5 630.5M483.5 626.5 L483.5 625.5 L485.5 624.5 L488.5 624.5 L489.5 625.5 L489.5 628.5 L483.5 634.5 L483.5 635.5 L489.5 635.5M505.5 629.5 L504.5 628.5 L504.5 625.5 L505.5 624.5 L508.5 624.5 L509.5 625.5 L509.5 628.5 L508.5 629.5 L505.5 629.5 L504.5 631.5 L504.5 634.5 L505.5 635.5 L508.5 635.5 L510.5 634.5 L510.5 631.5 L508.5 629.5M514.5 624.5 L520.5 624.5 L520.5 625.5 L516.5 635.5"/><rect class="f" x="340" y="634" width="2" height="2"/><rect class="f" x="340" y="628" width="2" height="2"/><rect class="f" x="402" y="634" width="2" height="2"/><rect class="f" x="495" y="634" width="2" height="2"/></g>
<g role="img" aria-label="marker 7"><title>marker 7</title><path class="t" d="M329.5 624.5 L335.5 624.5 L335.5 625.5 L331.5 635.5"/></g>
<g role="img" aria-label="8: 174.00 MHz -1.49 dB"><title>8: 174.00 MHz -1.49 dB</title><path class="t" d="M372.5 643.5 L373.5 642.5 L373.5 653.5M371.5 653.5 L375.5 653.5M380.5 642.5 L386.5 642.5 L386.5 643.5 L382.5 653.5M390.5 642.5 L390.5 649.5 L396.5 649.5M394.5 644.5 L394.5 653.5M412.5 653.5 L416.5 653.5 L417.5 652.5 L417.5 643.5 L416.5 642.5 L412.5 642.5 L411.5 643.5 L411.5 652.5 L412.5 653.5M411.5 652.5 L417.5 643.5M422.5 653.5 L426.5 653.5 L427.5 652.5 L427.5 643.5 L426.5 642.5 L422.5 642.5 L421.5 643.5 L421.5 652.5 L422.5 653.5M422.5 652.5 L427.5 643.5M473.5 648.5 L479.5 648.5M485.5 643.5 L486.5 642.5 L486.5 653.5M484.5 653.5 L488.5 653.5M504.5 642.5 L504.5 649.5 L510.5 649.5M508.5 644.5 L508.5 653.5M515.5 653.5 L516.5 653.5 L520.5 647.5 L520.5 644.5 L517.5 642.5 L516.5 642.5 L514.5 644.5 L514.5 646.5 L516.5 648.5 L517.5 648.5 L520.5 646.5"/><rect class="f" x="340" y="652" width="2" height="2"/><rect class="f" x="340" y="646" width="2" height="2"/><rect class="f" x="402" y="652" width="2" height="2"/><rect class="f" x="495" y="652" width="2" height="2"/></g>
<g role="img" aria-label="marker 8"><title>marker 8</title><path class="t" d="M330.5 647.5 L329.5 646.5 L329.5 643.5 L330.5 642.5 L333.5 642.5 L334.5 643.5 L334.5 646.5 L333.5 647.5 L330.5 647.5 L329.5 648.5 L329.5 652.5 L330.5 653.5 L333.5 653.5 L335.5 652.5 L335.5 648.5 L333.5 647.5"/></g>
</svg>
</body>
</html>
